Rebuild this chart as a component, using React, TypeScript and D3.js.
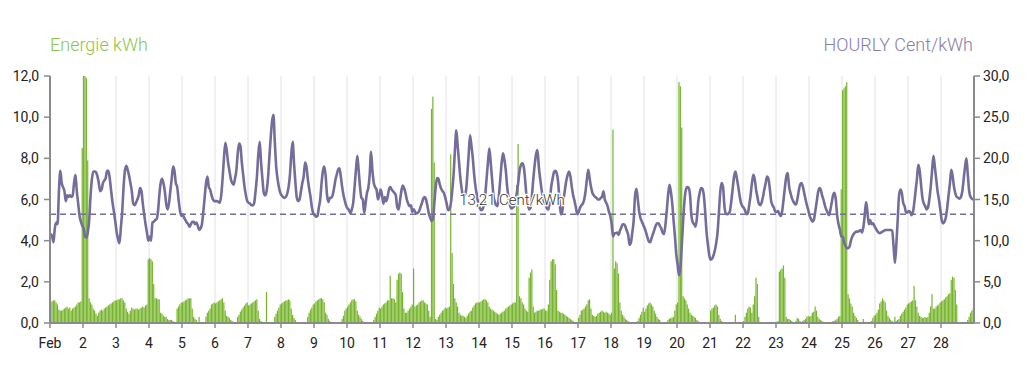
import React from "react";
import * as d3 from "d3";

// ---------- DATA (hourly, 1 Feb 00:00 → 28 Feb 23:00) ----------
const dayLabels = ["Feb", "2", "3", "4", "5", "6", "7", "8", "9", "10", "11", "12", "13", "14", "15", "16", "17", "18", "19", "20", "21", "22", "23", "24", "25", "26", "27", "28"];
const leftTicks = [0, 2, 4, 6, 8, 10, 12];
const rightTicks = [0, 5, 10, 15, 20, 25, 30];
const averagePrice = 13.21;

// Energy consumption, kWh per hour (24 values per day)
const energyKWh = [
  1.0, 1.05, 1.1, 1.1, 1.0, 0.9, 0.65, 0.6, 0.6, 0.65, 0.7, 0.75, 0.8, 0.7, 0.75, 0.6, 0.7, 0.75, 0.8, 0.9, 1.0, 1.0, 1.05, 8.5,
  12, 12, 11.9, 7.9, 1.2, 1.0, 0.9, 0.7, 0.6, 0.45, 0.35, 0.5, 0.6, 0.65, 0.6, 0.7, 0.75, 0.8, 0.85, 0.9, 0.95, 1.0, 1.05, 1.1,
  1.1, 1.15, 1.15, 1.2, 1.2, 1.1, 1.0, 0.7, 0.55, 0.45, 0.6, 0.75, 0.7, 0.65, 0.7, 0.7, 0.65, 0.7, 0.75, 0.8, 0.75, 0.85, 0.9, 3.1,
  3.15, 3.1, 3.0, 1.9, 1.2, 1.2, 1.15, 1.15, 0.5, 0.45, 0.35, 0.3, 0.3, 0.2, 0.15, 0.15, 0.15, 0.1, 0.05, 0.0, 0.7, 0.8, 0.9, 1.0,
  1.0, 1.05, 1.1, 1.15, 1.2, 1.2, 1.2, 0.7, 0.3, 0.2, 0.15, 0.05, 0.3, 0.05, 0.0, 0.0, 0.05, 0.3, 0.5, 0.6, 0.7, 0.9, 0.95, 1.0,
  0.95, 1.0, 1.05, 1.1, 1.15, 1.2, 1.0, 0.6, 0.35, 0.3, 0.25, 0.15, 0.1, 0.05, 0.0, 0.05, 0.3, 0.4, 0.55, 0.65, 0.75, 0.85, 0.95, 1.0,
  0.85, 0.9, 0.95, 1.0, 1.05, 1.1, 1.15, 0.6, 0.2, 0.1, 0.05, 0.05, 0.05, 1.5, 0.0, 0.0, 0.0, 0.0, 0.05, 0.3, 0.45, 0.6, 0.75, 0.9,
  0.95, 1.0, 1.05, 1.1, 1.1, 1.15, 1.1, 0.7, 0.4, 0.25, 0.15, 0.05, 0.05, 0.0, 0.0, 0.05, 0.0, 0.0, 0.05, 0.3, 0.5, 0.65, 0.75, 0.9,
  0.95, 1.05, 1.1, 1.15, 1.2, 1.2, 1.15, 1.0, 0.5, 0.4, 0.2, 0.1, 0.05, 0.0, 0.0, 0.0, 0.0, 0.0, 0.0, 0.05, 0.2, 0.35, 0.6, 0.7,
  0.8, 0.9, 1.0, 1.1, 1.15, 1.15, 1.05, 0.6, 0.4, 0.3, 0.2, 0.1, 0.0, 0.0, 0.0, 0.05, 0.0, 0.0, 0.05, 0.15, 0.3, 0.45, 0.6, 0.75,
  0.7, 0.8, 0.9, 0.95, 1.0, 1.1, 1.1, 2.3, 1.2, 1.2, 1.15, 1.0, 2.1, 2.4, 2.45, 2.4, 1.5, 0.7, 0.5, 0.5, 0.6, 0.7, 0.8, 0.9,
  2.65, 0.8, 0.85, 0.9, 1.0, 1.05, 1.1, 1.1, 1.0, 0.95, 0.9, 0.6, 0.3, 10.4, 11.0, 7.8, 0.2, 0.15, 0.3, 0.4, 0.5, 0.6, 0.65, 0.75,
  0.7, 0.75, 0.8, 8.2, 3.4, 1.9, 1.2, 1.0, 0.8, 0.5, 0.4, 0.35, 0.35, 0.3, 0.25, 0.35, 0.45, 0.55, 0.6, 0.75, 0.85, 0.95, 1.0, 1.0,
  1.0, 1.05, 1.1, 1.15, 1.15, 1.1, 1.0, 0.8, 0.7, 0.65, 0.6, 0.55, 0.5, 0.45, 0.4, 0.45, 0.5, 0.55, 0.6, 0.7, 0.75, 0.8, 0.85, 0.9,
  0.95, 1.0, 1.0, 6.7, 8.7, 1.3, 1.2, 1.0, 0.9, 0.7, 0.6, 0.55, 2.2, 2.45, 2.6, 0.8, 0.5, 0.55, 0.6, 0.6, 0.65, 0.65, 0.7, 0.7,
  0.6, 0.6, 0.9, 2.1, 3.0, 3.1, 3.1, 2.85, 1.6, 0.6, 0.55, 0.5, 0.5, 0.45, 0.4, 0.35, 0.3, 0.25, 0.2, 0.15, 0.1, 0.05, 0.05, 0.0,
  0.25, 0.4, 0.6, 0.65, 0.7, 0.8, 0.9, 1.1, 1.15, 0.7, 0.4, 0.35, 0.3, 0.35, 0.45, 0.5, 0.55, 0.6, 0.55, 0.5, 0.55, 0.5, 0.45, 0.4,
  0.5, 9.4, 2.65, 3.0, 2.9, 2.4, 1.0, 0.6, 0.4, 0.3, 0.2, 0.15, 0.1, 0.05, 0.0, 0.0, 0.0, 0.0, 0.0, 0.1, 0.25, 0.4, 0.55, 0.75,
  0.55, 0.7, 0.85, 0.95, 1.0, 0.9, 0.8, 0.6, 0.45, 0.3, 0.2, 0.15, 0.05, 0.0, 0.0, 0.0, 0.05, 0.15, 0.2, 0.25, 0.25, 0.3, 0.6, 0.9,
  1.0, 11.7, 11.5, 9.5, 1.3, 1.2, 1.1, 0.9, 0.7, 0.5, 0.4, 0.35, 0.3, 0.25, 0.15, 0.1, 0.05, 0.05, 0.0, 0.0, 0.0, 0.0, 0.0, 0.0,
  0.6, 0.7, 0.75, 0.85, 0.9, 0.8, 0.4, 0.2, 0.1, 0.05, 0.0, 0.0, 0.0, 0.0, 0.0, 0.0, 0.0, 0.0, 0.4, 0.0, 0.0, 0.0, 0.0, 0.0,
  0.1, 0.3, 0.5, 0.7, 0.8, 0.75, 0.5, 0.9, 1.3, 2.2, 1.9, 0.3, 0.05, 0.0, 0.0, 0.0, 0.0, 0.0, 0.0, 0.0, 0.0, 0.0, 0.0, 0.0,
  0.0, 0.1, 2.5, 2.6, 2.65, 2.8, 2.2, 0.3, 0.2, 0.2, 0.15, 0.1, 0.0, 0.0, 0.1, 0.25, 0.2, 0.1, 0.05, 0.1, 0.15, 0.2, 0.3, 0.35,
  0.3, 0.35, 0.5, 0.55, 0.8, 0.6, 0.3, 0.2, 0.15, 0.1, 0.05, 0.05, 0.05, 0.0, 0.0, 0.05, 0.05, 0.1, 0.1, 0.15, 0.2, 0.3, 0.35, 6.5,
  11.3, 11.4, 11.5, 11.7, 1.4, 1.2, 0.95, 0.8, 0.5, 0.35, 0.25, 0.15, 0.05, 0.0, 0.05, 0.2, 0.0, 0.0, 0.0, 0.0, 0.05, 0.1, 0.25, 0.35,
  0.4, 0.5, 0.65, 0.95, 1.05, 1.2, 1.1, 1.0, 0.6, 0.35, 0.25, 0.15, 0.1, 0.05, 0.3, 0.1, 0.15, 0.2, 0.35, 0.45, 0.55, 0.65, 0.75, 0.9,
  0.95, 1.0, 1.05, 1.1, 1.8, 1.1, 0.8, 0.5, 0.35, 0.3, 0.25, 0.25, 0.3, 0.25, 0.3, 0.5, 0.8, 1.4, 0.7, 0.7, 0.8, 0.85, 0.9, 1.0,
  1.05, 1.1, 1.15, 1.25, 1.3, 1.4, 1.45, 2.1, 2.25, 2.2, 1.6, 0.9, 0.05, 0.0, 0.0, 0.0, 0.0, 0.0, 0.0, 0.15, 0.3, 0.5, 0.6, 0.7,
];

// Hourly price, Cent/kWh (24 values per day)
const priceCent = [
  10.8, 10.6, 9.8, 11.5, 12.2, 12.0, 16.0, 18.5, 17.0, 16.5, 16.0, 14.8, 15.5, 15.3, 15.5, 15.3, 15.5, 17.0, 18.0, 16.0, 14.5, 13.0, 12.3, 11.8,
  11.5, 10.5, 10.4, 11.0, 12.5, 15.5, 17.5, 18.4, 18.4, 18.3, 17.8, 17.0, 16.0, 16.2, 17.0, 17.3, 17.6, 18.5, 18.5, 17.5, 16.0, 14.6, 13.5, 12.3,
  11.0, 10.2, 9.7, 11.5, 13.5, 16.5, 18.5, 19.1, 18.6, 17.9, 17.0, 16.0, 14.5, 14.3, 14.6, 15.0, 15.5, 16.4, 16.0, 14.5, 13.2, 12.0, 11.0, 10.0,
  10.5, 10.0, 12.2, 12.3, 12.5, 12.6, 13.5, 15.5, 17.0, 17.5, 17.0, 16.0, 14.5, 13.8, 14.5, 16.0, 17.5, 19.0, 18.5, 17.0, 16.5, 15.0, 13.7, 13.0,
  13.2, 12.8, 12.5, 12.2, 12.0, 11.7, 12.0, 12.3, 12.3, 12.0, 12.2, 11.8, 11.3, 11.5, 12.0, 13.5, 15.3, 17.0, 17.8, 16.5, 16.2, 15.5, 15.0, 14.8,
  14.8, 14.8, 14.7, 14.6, 15.5, 17.5, 20.0, 21.9, 21.0, 19.5, 18.5, 17.5, 17.0, 16.8, 17.5, 18.5, 20.5, 21.8, 21.5, 19.5, 18.0, 16.5, 15.5, 14.8,
  14.6, 14.5, 14.3, 14.3, 14.6, 16.0, 17.8, 20.5, 22.0, 19.5, 17.5, 15.8, 15.5, 16.0, 17.5, 20.0, 22.5, 24.5, 25.3, 22.0, 19.0, 17.5, 16.5, 15.8,
  15.5, 15.3, 15.2, 15.3, 15.7, 16.5, 18.0, 20.5, 22.0, 19.3, 17.0, 15.2, 14.8, 15.0, 16.0, 17.0, 17.8, 19.5, 19.0, 17.5, 16.3, 15.3, 14.0, 13.3,
  13.1, 12.9, 13.0, 14.0, 15.0, 17.0, 18.5, 19.0, 17.8, 15.5, 14.7, 15.2, 15.2, 15.5, 16.3, 17.3, 18.0, 18.6, 18.8, 17.8, 16.5, 15.5, 14.8, 14.2,
  13.9, 13.7, 13.3, 13.8, 14.6, 16.5, 18.6, 20.3, 18.5, 16.5, 15.2, 15.0, 13.4, 14.5, 15.8, 16.4, 18.0, 20.8, 18.5, 17.0, 16.5, 16.2, 15.0, 15.5,
  16.2, 15.5, 14.5, 15.3, 14.8, 15.3, 16.2, 16.5, 16.2, 16.0, 15.8, 15.5, 14.1, 13.8, 14.8, 16.0, 16.7, 16.4, 15.8, 15.0, 14.5, 14.2, 14.3, 13.5,
  13.8, 13.5, 13.3, 13.4, 13.6, 14.1, 14.6, 15.1, 15.3, 15.0, 14.2, 13.3, 12.8, 12.4, 12.6, 14.5, 16.5, 17.6, 17.5, 16.8, 16.3, 16.0, 15.8, 15.2,
  14.5, 13.7, 13.8, 14.5, 16.0, 18.0, 21.0, 23.4, 21.5, 19.5, 17.5, 16.2, 15.3, 15.5, 16.0, 18.0, 20.5, 22.8, 21.5, 20.0, 18.0, 16.5, 15.5, 14.5,
  14.0, 13.7, 13.8, 14.3, 15.5, 17.5, 19.5, 21.2, 19.5, 17.5, 15.5, 14.7, 14.3, 14.2, 15.5, 17.5, 19.5, 20.6, 19.8, 18.5, 16.5, 15.2, 14.3, 13.9,
  14.0, 14.2, 14.7, 15.8, 17.0, 18.5, 19.2, 19.4, 19.0, 17.5, 15.5, 14.5, 13.8, 14.0, 15.5, 17.5, 19.2, 20.5, 21.0, 19.0, 17.5, 16.2, 15.3, 14.6,
  14.3, 13.9, 13.8, 14.8, 16.5, 17.5, 18.3, 18.5, 18.2, 17.2, 15.0, 13.2, 13.5, 15.0, 16.2, 17.3, 18.0, 18.4, 17.8, 16.5, 15.5, 14.8, 14.0, 13.2,
  13.5, 14.0, 14.3, 14.5, 15.0, 16.0, 17.5, 18.6, 17.5, 16.5, 15.8, 15.5, 15.3, 15.2, 15.0, 15.0, 15.2, 15.3, 16.0, 15.0, 14.6, 14.2, 13.5, 13.0,
  12.0, 10.5, 10.9, 10.9, 11.0, 10.7, 11.2, 11.6, 12.0, 12.0, 11.7, 11.2, 10.7, 9.5, 9.8, 11.0, 12.5, 15.5, 16.3, 15.0, 13.5, 12.7, 12.3, 11.9,
  11.5, 11.0, 10.4, 9.9, 9.8, 10.3, 10.8, 11.3, 11.8, 12.1, 12.1, 11.8, 11.5, 11.0, 10.8, 11.8, 13.5, 15.5, 16.8, 16.0, 14.6, 12.5, 10.5, 8.3,
  7.0, 5.8, 6.8, 9.5, 12.5, 15.0, 16.2, 16.5, 16.4, 15.5, 13.0, 12.2, 12.0, 11.7, 12.8, 14.8, 15.8, 16.4, 16.3, 15.5, 13.5, 11.0, 9.5, 8.2,
  7.7, 7.8, 8.2, 8.8, 9.7, 11.0, 13.5, 16.0, 17.0, 16.5, 14.2, 13.3, 13.2, 13.3, 13.6, 14.8, 16.3, 17.8, 18.4, 17.6, 16.6, 15.5, 14.6, 14.2,
  14.0, 13.7, 13.2, 13.3, 14.3, 15.5, 17.0, 18.0, 17.5, 16.2, 15.3, 14.5, 14.3, 14.6, 15.3, 16.2, 17.0, 17.8, 17.5, 16.3, 14.8, 14.3, 14.0, 13.5,
  13.5, 13.6, 13.2, 13.0, 13.6, 15.0, 16.5, 17.8, 18.2, 16.6, 15.8, 15.2, 14.8, 14.5, 14.4, 15.0, 16.0, 16.8, 17.0, 16.6, 15.8, 15.0, 14.3, 13.7,
  13.0, 12.6, 12.3, 12.5, 13.5, 14.6, 15.8, 16.4, 16.2, 15.5, 15.0, 14.3, 13.8, 13.4, 13.1, 13.7, 14.6, 15.5, 15.8, 15.0, 13.0, 12.0, 11.3, 10.5,
  10.5, 9.8, 9.4, 9.1, 9.1, 9.3, 10.0, 10.5, 10.8, 11.0, 11.1, 11.1, 11.2, 11.3, 11.0, 11.6, 13.0, 14.7, 13.5, 12.0, 12.5, 12.0, 12.1, 11.8,
  11.5, 11.2, 11.0, 10.9, 11.0, 11.1, 11.2, 11.3, 11.3, 11.3, 11.3, 11.3, 11.2, 9.3, 7.3, 9.5, 12.5, 15.5, 16.2, 15.8, 14.6, 14.2, 13.5, 13.4,
  13.6, 13.5, 13.1, 13.4, 14.5, 16.0, 17.5, 19.2, 18.5, 16.8, 15.2, 14.5, 14.2, 13.8, 14.0, 15.0, 16.5, 18.5, 20.3, 19.0, 17.5, 16.0, 15.0, 13.8,
  12.5, 12.1, 12.3, 12.8, 14.0, 15.5, 17.0, 18.6, 17.8, 16.5, 15.7, 15.3, 15.2, 15.1, 15.3, 16.0, 17.5, 19.0, 20.0, 18.0, 16.0, 15.3, 15.1, 15.0,
];

// ---------- CHART ----------
const W = 1028;
const H = 368;
const PLOT = { left: 50, right: 974, top: 76, bottom: 323 };
const GREEN = "#76b42c";
const GREEN_TITLE = "#8dc448";
const PURPLE = "#766c9c";
const PURPLE_TITLE = "#857ea6";
const AXIS = "#8a8a8a";
const TEXT = "#222";
const FONT = "Roboto, 'Noto Sans', sans-serif";

const fmt = (v: number) => v.toFixed(1).replace(".", ",");
const fmt2 = (v: number) => v.toFixed(2).replace(".", ",");

export default function App() {
  const hours = energyKWh.length;
  const x = d3.scaleLinear().domain([0, 28 * 24]).range([PLOT.left, PLOT.right]);
  const yL = d3.scaleLinear().domain([0, 12]).range([PLOT.bottom, PLOT.top]);
  const yR = d3.scaleLinear().domain([0, 30]).range([PLOT.bottom, PLOT.top]);
  const step = x(1) - x(0);

  const line = d3
    .line<number>()
    .x((_, i) => x(i + 0.5))
    .y((d) => yR(d))
    .curve(d3.curveMonotoneX);

  return (
    <svg
      width={W}
      height={H}
      style={{ position: "absolute", left: 0, top: 0, background: "#fff" }}
      fontFamily={FONT}
    >
      <defs>
        <clipPath id="plot">
          <rect x={PLOT.left} y={PLOT.top} width={PLOT.right - PLOT.left} height={PLOT.bottom - PLOT.top} />
        </clipPath>
      </defs>

      {/* titles */}
      <text x={PLOT.left} y={51} fill={GREEN_TITLE} fontSize={18} fontWeight={300}>
        Energie kWh
      </text>
      <text x={PLOT.right - 1} y={51} fill={PURPLE_TITLE} fontSize={18} fontWeight={300} textAnchor="end">
        HOURLY Cent/kWh
      </text>

      {/* vertical day grid */}
      {dayLabels.map((_, i) =>
        i === 0 ? null : (
          <line key={"g" + i} x1={x(i * 24)} x2={x(i * 24)} y1={PLOT.top} y2={PLOT.bottom} stroke="#e2e2ea" strokeWidth={1} />
        )
      )}

      {/* energy bars */}
      <g clipPath="url(#plot)">
        {energyKWh.map((v, i) => (
          <rect key={"b" + i} x={x(i)} y={yL(v)} width={step - 0.18} height={PLOT.bottom - yL(v)} fill={GREEN} />
        ))}
      </g>

      {/* average dashed line */}
      <line
        x1={PLOT.left}
        x2={PLOT.right}
        y1={yR(averagePrice)}
        y2={yR(averagePrice)}
        stroke={PURPLE}
        strokeWidth={1.6}
        strokeDasharray="6,4"
      />

      {/* price line */}
      <path d={line(priceCent.slice(0, hours)) || ""} fill="none" stroke={PURPLE} strokeWidth={2.6} strokeLinejoin="round" />

      {/* average label */}
      <text
        x={(PLOT.left + PLOT.right) / 2}
        y={yR(averagePrice) - 9}
        fontSize={15}
        fontWeight={300}
        fill="#333"
        textAnchor="middle"
        stroke="#fff"
        strokeWidth={2.5}
        paintOrder="stroke"
      >
        {fmt2(averagePrice) + " Cent/kWh"}
      </text>

      {/* left axis */}
      <line x1={PLOT.left} x2={PLOT.left} y1={PLOT.top} y2={PLOT.bottom} stroke={AXIS} strokeWidth={2} />
      {leftTicks.map((t) => (
        <g key={"l" + t} transform={`translate(0,${yL(t)})`}>
          <line x1={PLOT.left - 6} x2={PLOT.left} stroke={AXIS} strokeWidth={1.5} />
          <text x={PLOT.left - 11} dy="0.36em" fontSize={14} fill={TEXT} textAnchor="end">
            {fmt(t)}
          </text>
        </g>
      ))}

      {/* right axis */}
      <line x1={PLOT.right} x2={PLOT.right} y1={PLOT.top} y2={PLOT.bottom} stroke={AXIS} strokeWidth={2} />
      {rightTicks.map((t) => (
        <g key={"r" + t} transform={`translate(0,${yR(t)})`}>
          <line x1={PLOT.right} x2={PLOT.right + 6} stroke={AXIS} strokeWidth={1.5} />
          <text x={PLOT.right + 9} dy="0.36em" fontSize={14} fill={TEXT} textAnchor="start">
            {fmt(t)}
          </text>
        </g>
      ))}

      {/* bottom axis */}
      <line x1={PLOT.left} x2={PLOT.right} y1={PLOT.bottom} y2={PLOT.bottom} stroke={AXIS} strokeWidth={2} />
      {dayLabels.map((lab, i) => (
        <g key={"x" + i} transform={`translate(${x(i * 24)},${PLOT.bottom})`}>
          <line y1={0} y2={5} stroke={AXIS} strokeWidth={1.5} />
          <text y={25} fontSize={14} fill={TEXT} textAnchor="middle">
            {lab}
          </text>
        </g>
      ))}
    </svg>
  );
}
